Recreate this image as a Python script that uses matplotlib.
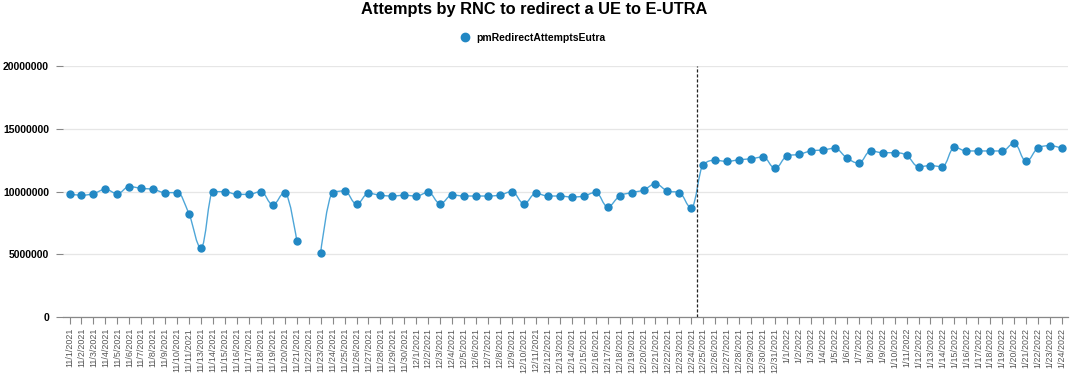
import numpy as np
import matplotlib
matplotlib.use("Agg")
import matplotlib.pyplot as plt
from matplotlib.path import Path
from matplotlib.patches import PathPatch
from matplotlib.lines import Line2D

plt.rcParams['font.family'] = ['Liberation Sans', 'DejaVu Sans']

# categories (11/12/2021 is absent from the source)
dates = (["11/%d/2021" % d for d in range(1, 12)] +
         ["11/%d/2021" % d for d in range(13, 31)] +
         ["12/%d/2021" % d for d in range(1, 32)] +
         ["1/%d/2022" % d for d in range(1, 25)])

# pmRedirectAttemptsEutra, in millions (None = no value)
nov = [9.80, 9.70, 9.83, 10.17, 9.83, 10.39, 10.25, 10.17, 9.91, 9.91, 8.18,
       5.52, 9.99, 9.99, 9.77, 9.77, 9.99, 8.95, 9.91, 6.08, None, 5.12,
       9.91, 10.04, 9.00, 9.85, 9.70, 9.64, 9.70]
dec = [9.64, 9.93, 9.03, 9.72, 9.64, 9.64, 9.64, 9.72, 9.99, 9.03, 9.85,
       9.64, 9.64, 9.56, 9.64, 9.93, 8.79, 9.64, 9.91, 10.12, 10.60, 10.04,
       9.91, 8.71, 12.14, 12.48, 12.40, 12.53, 12.61, 12.75, 11.85]
jan = [12.83, 12.96, 13.23, 13.31, 13.44, 12.67, 12.27, 13.23, 13.09, 13.09,
       12.88, 11.98, 12.06, 11.98, 13.52, 13.23, 13.23, 13.23, 13.23, 13.84,
       12.40, 13.47, 13.65, 13.44]
values = [v * 1e6 if v is not None else None for v in nov + dec + jan]
marker_date = "12/24/2021"

BLUE = '#2288c4'
LINE = '#4ea6d8'

fig = plt.figure(figsize=(10.8, 3.83), dpi=100)
ax = fig.add_axes([0.0583, 0.1723, 0.9306, 0.6554])
n = len(dates)
ax.set_xlim(-0.55, n - 0.5)
ax.set_ylim(0, 20000000)


def spline_path(xs, ys):
    # spline in the highcharts manner: control points at 1/2.5 towards the
    # neighbours, shifted so they line up through the point, clipped so no
    # false extremes appear
    pts = ax.transData.transform(np.column_stack([xs, ys]))
    sm = 1.5
    d = sm + 1
    k = len(pts)
    lc = pts.copy()
    rc = pts.copy()
    for i in range(1, k - 1):
        px, py = pts[i]
        lx, ly = pts[i - 1]
        nx, ny = pts[i + 1]
        lcx = (sm * px + lx) / d
        lcy = (sm * py + ly) / d
        rcx = (sm * px + nx) / d
        rcy = (sm * py + ny) / d
        if rcx != lcx:
            corr = (rcy - lcy) * (rcx - px) / (rcx - lcx) + py - rcy
            lcy += corr
            rcy += corr
        if lcy > ly and lcy > py:
            lcy = max(ly, py)
            rcy = 2 * py - lcy
        elif lcy < ly and lcy < py:
            lcy = min(ly, py)
            rcy = 2 * py - lcy
        if rcy > ny and rcy > py:
            rcy = max(ny, py)
            lcy = 2 * py - rcy
        elif rcy < ny and rcy < py:
            rcy = min(ny, py)
            lcy = 2 * py - rcy
        lc[i] = (lcx, lcy)
        rc[i] = (rcx, rcy)
    verts = [pts[0]]
    codes = [Path.MOVETO]
    for i in range(1, k):
        verts += [rc[i - 1], lc[i], pts[i]]
        codes += [Path.CURVE4] * 3
    return Path(ax.transData.inverted().transform(np.array(verts)), codes)


# split into runs without gaps
runs = []
cur = []
for i, v in enumerate(values):
    if v is None:
        if cur:
            runs.append(cur)
        cur = []
    else:
        cur.append(i)
if cur:
    runs.append(cur)

for run in runs:
    xs = np.array(run, dtype=float)
    ys = np.array([values[i] for i in run])
    if len(run) > 1:
        ax.add_patch(PathPatch(spline_path(xs, ys), facecolor='none',
                               edgecolor=LINE, lw=1.0, zorder=3))
    ax.plot(xs, ys, 'o', color=BLUE, ms=5, mec=BLUE, zorder=4, ls='none')

# vertical marker line
vx = dates.index(marker_date) + 0.5
ax.axvline(vx, color='#222222', lw=0.9, ls=(0, (2.5, 1.5)), zorder=5)

# axes styling
ax.set_yticks([0, 5000000, 10000000, 15000000, 20000000])
ax.set_yticklabels(['0', '5000000', '10000000', '15000000', '20000000'],
                   fontsize=7.5, fontweight='bold')
ax.yaxis.grid(True, color='#e6e6e6', lw=0.9)
ax.set_axisbelow(True)
ax.tick_params(axis='y', length=5, color='#888888', pad=5, width=0.8)
for s in ['top', 'right', 'left']:
    ax.spines[s].set_visible(False)
ax.spines['bottom'].set_color('#888888')
ax.spines['bottom'].set_linewidth(0.9)

ax.set_xticks(range(n))
ax.set_xticklabels(dates, rotation=90, fontsize=6.4, color='#555555')
ax.tick_params(axis='x', length=5, color='#888888', pad=3, width=0.8)

fig.text(0.495, 0.995, 'Attempts by RNC to redirect a UE to E-UTRA',
         ha='center', va='top', fontsize=11.8, fontweight='bold')
handle = Line2D([], [], marker='o', color=BLUE, ls='none', ms=6)
fig.legend([handle], ['pmRedirectAttemptsEutra'], loc='center',
           bbox_to_anchor=(0.491, 0.902), frameon=False, handletextpad=0.1,
           prop={'size': 7.5, 'weight': 'bold'})

fig.savefig('out.png', dpi=100)
